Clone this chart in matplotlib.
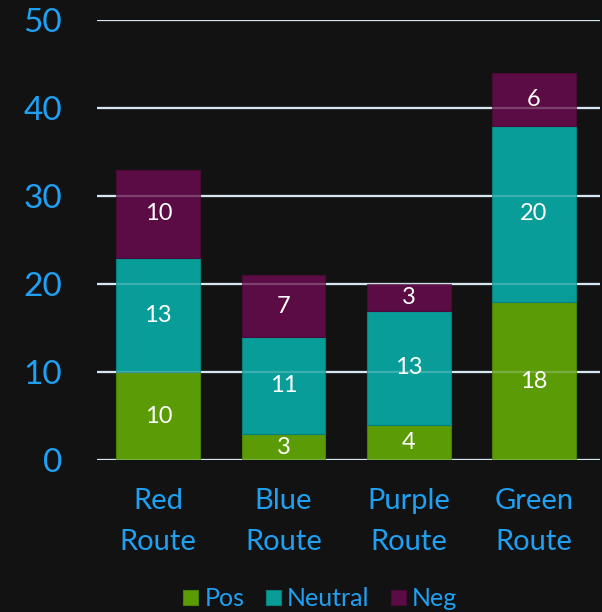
import numpy as np
import matplotlib.pyplot as plt

# данные
routes = ['Red\nRoute', 'Blue\nRoute', 'Purple\nRoute', 'Green\nRoute']
pos = [10, 3, 4, 18]
neutral = [13, 11, 13, 20]
neg = [10, 7, 3, 6]

bg = '#121212'
txt = '#1FA0F2'
colors = {'Pos': '#5B9C06', 'Neutral': '#089D99', 'Neg': '#5C0C44'}
edges = {'Pos': '#4A8004', 'Neutral': '#07807C', 'Neg': '#4A0A37'}

plt.rcParams['font.family'] = ['Lato', 'DejaVu Sans']

fig = plt.figure(figsize=(6.02, 6.12), dpi=100, facecolor=bg)
ax = fig.add_axes([0.161, 0.248, 0.836, 0.719], facecolor=bg)

x = np.arange(len(routes))
bottom = np.zeros(len(routes))
for name, vals in [('Pos', pos), ('Neutral', neutral), ('Neg', neg)]:
    bars = ax.bar(x, vals, 0.67, bottom=bottom, color=colors[name],
                  edgecolor=edges[name], linewidth=0.8, label=name, zorder=2)
    ax.bar_label(bars, labels=[str(v) for v in vals], label_type='center',
                 color='white', fontsize=17, zorder=4)
    bottom += np.array(vals)

# сетка: яркая под столбцами и полупрозрачная поверх
for yv in range(0, 51, 10):
    ax.axhline(yv, color='#D6E6F0', lw=1.6, zorder=1)
    ax.axhline(yv, color='#D6E6F0', lw=1.6, alpha=0.25, zorder=3)

ax.set_ylim(0, 50)
ax.set_xlim(-0.49, 3.53)
ax.set_yticks(range(0, 51, 10))
ax.set_xticks(x)
ax.set_xticklabels(routes, linespacing=1.7)
ax.tick_params(axis='y', length=0, pad=25, labelsize=24, labelcolor=txt)
ax.tick_params(axis='x', length=0, pad=20, labelsize=21, labelcolor=txt)
for s in ax.spines.values():
    s.set_visible(False)

leg = fig.legend(loc='lower center', bbox_to_anchor=(0.532, -0.034), ncol=3,
                 frameon=False, fontsize=18, labelcolor=txt,
                 handlelength=0.6, handleheight=0.6, handletextpad=0.25,
                 columnspacing=0.85)

fig.savefig('out.png', dpi=100, facecolor=bg)
